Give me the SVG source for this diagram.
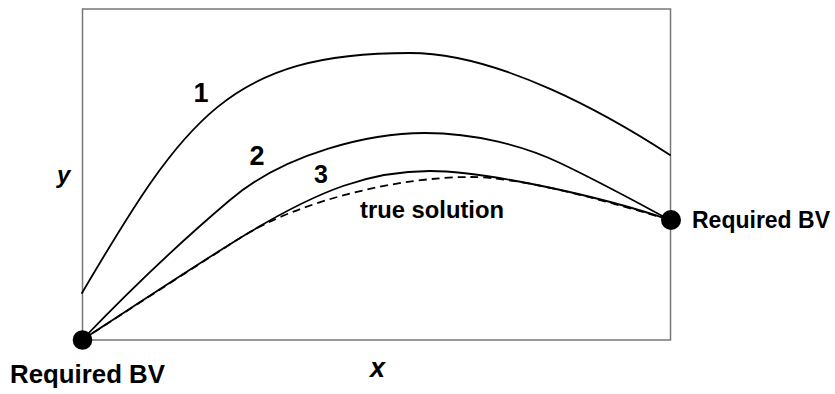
<svg xmlns="http://www.w3.org/2000/svg" width="835" height="394" viewBox="0 0 835 394">
<style>
.curve{fill:none;stroke:#000;stroke-width:1.8;stroke-linecap:round;stroke-linejoin:round}
.dash{stroke-dasharray:8 5;stroke-linecap:butt}
.lbl{font-family:"Liberation Sans",Arial,Helvetica,sans-serif;font-weight:bold;fill:#000}
.ax{font-style:italic}
</style>
<rect width="835" height="394" fill="#fff"/>
<g id="frame">
<rect x="82.5" y="9" width="588" height="331" fill="none" stroke="#777" stroke-width="1.5"/>
</g>
<g id="connectors">
<path id="curve1" class="curve" d="M82,293 C185,118 230,53 410,53 C500,53 610,116 670,155"/>
<path id="curve2" class="curve" d="M82,340 C130,290 185,238 230,200 C285,153 370,133 425,133 C475,133 525,146 560,163 C600,182 640,204 670,220"/>
<path id="curve3" class="curve" d="M82,340 C150,296 200,262 250,232 C320,190 370,171 430,171 C485,171 600,196 670,220"/>
<path id="true-solution" class="curve dash" d="M82,340 C150,296 190,270 240,238 C300,200 400,177 470,177 C520,177 600,199 670,220"/>
</g>
<g id="bv-left">
<circle cx="82.5" cy="340" r="9.8" fill="#000"/>
<text class="lbl" x="10" y="383" font-size="26" textLength="155" lengthAdjust="spacingAndGlyphs">Required BV</text>
</g>
<g id="bv-right">
<circle cx="671" cy="220" r="10" fill="#000"/>
<text class="lbl" x="692" y="228" font-size="23" textLength="138" lengthAdjust="spacingAndGlyphs">Required BV</text>
</g>
<g id="labels">
<text class="lbl" x="201" y="102" font-size="27" text-anchor="middle">1</text>
<text class="lbl" x="257" y="165" font-size="27" text-anchor="middle">2</text>
<text class="lbl" x="321" y="183" font-size="25" text-anchor="middle">3</text>
<text class="lbl" x="360" y="218" font-size="24.5" textLength="144" lengthAdjust="spacingAndGlyphs">true solution</text>
<text class="lbl ax" x="57" y="183" font-size="24">y</text>
<text class="lbl ax" x="370" y="377" font-size="27">x</text>
</g>
</svg>
